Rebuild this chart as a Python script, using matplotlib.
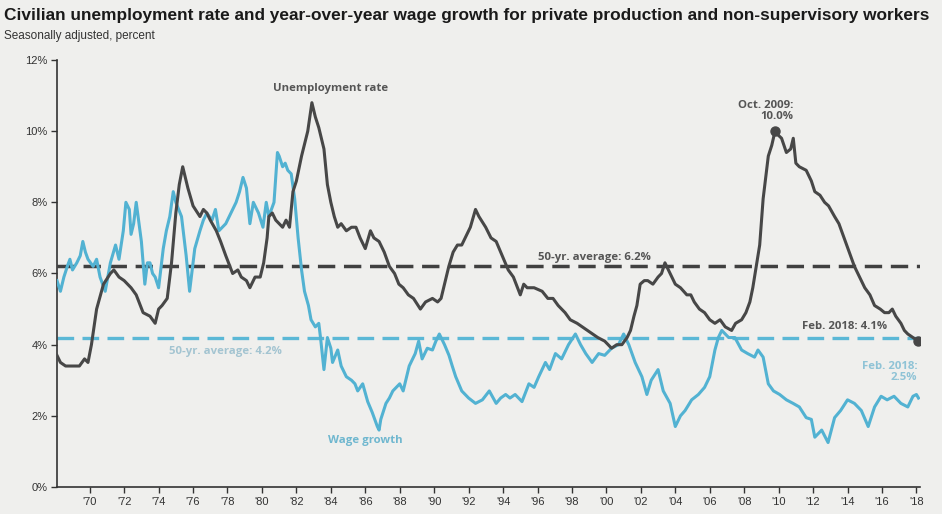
import matplotlib
matplotlib.use("Agg")
import matplotlib.pyplot as plt

# civilian unemployment rate, percent (decimal year, value)
unemp_t = [1968.1, 1968.3, 1968.6, 1969.0, 1969.4, 1969.7, 1969.9, 1970.1, 1970.4, 1970.8,
           1971.2, 1971.4, 1971.7, 1972.0, 1972.4, 1972.7, 1973.1, 1973.5, 1973.8, 1974.0,
           1974.2, 1974.5, 1974.75, 1975.0, 1975.2, 1975.4, 1975.7, 1976.0, 1976.4, 1976.6,
           1976.8, 1977.0, 1977.35, 1977.6, 1977.9, 1978.3, 1978.6, 1978.8, 1979.1, 1979.3,
           1979.6, 1979.9, 1980.1, 1980.3, 1980.4, 1980.6, 1980.8, 1981.0, 1981.2, 1981.4,
           1981.6, 1981.8, 1982.0, 1982.3, 1982.66, 1982.9, 1983.1, 1983.3, 1983.6, 1983.8,
           1984.0, 1984.2, 1984.4, 1984.6, 1984.9, 1985.2, 1985.46, 1985.7, 1986.0, 1986.3,
           1986.5, 1986.8, 1987.1, 1987.4, 1987.7, 1987.95, 1988.2, 1988.5, 1988.8, 1989.2,
           1989.5, 1989.9, 1990.2, 1990.4, 1990.6, 1990.85, 1991.1, 1991.35, 1991.6, 1991.8,
           1992.1, 1992.4, 1992.6, 1992.99, 1993.3, 1993.6, 1993.86, 1994.3, 1994.6, 1995.0,
           1995.2, 1995.4, 1995.8, 1996.27, 1996.6, 1996.9, 1997.2, 1997.6, 1997.9, 1998.3,
           1998.6, 1998.9, 1999.2, 1999.5, 1999.9, 2000.3, 2000.6, 2000.9, 2001.2, 2001.4,
           2001.6, 2001.77, 2001.96, 2002.2, 2002.4, 2002.7, 2003.0, 2003.2, 2003.4, 2003.6,
           2004.0, 2004.3, 2004.67, 2004.9, 2005.1, 2005.4, 2005.7, 2006.0, 2006.3, 2006.6,
           2006.9, 2007.27, 2007.5, 2007.85, 2008.1, 2008.33, 2008.5, 2008.7, 2008.9, 2009.1,
           2009.4, 2009.6, 2009.79, 2009.95, 2010.17, 2010.45, 2010.7, 2010.85, 2011.0, 2011.2,
           2011.6, 2011.9, 2012.1, 2012.4, 2012.67, 2012.9, 2013.25, 2013.5, 2013.8, 2014.1,
           2014.4, 2014.7, 2015.0, 2015.3, 2015.57, 2015.9, 2016.15, 2016.4, 2016.6, 2016.8,
           2017.1, 2017.3, 2017.5, 2017.8, 2018.12]
unemp_v = [3.7, 3.5, 3.4, 3.4, 3.4, 3.6, 3.5, 4.0, 5.0, 5.7,
           6.0, 6.1, 5.9, 5.8, 5.6, 5.4, 4.9, 4.8, 4.6, 5.0,
           5.1, 5.3, 6.3, 7.7, 8.5, 9.0, 8.4, 7.9, 7.6, 7.8,
           7.7, 7.5, 7.2, 6.9, 6.5, 6.0, 6.1, 5.9, 5.8, 5.6,
           5.9, 5.9, 6.3, 7.0, 7.6, 7.7, 7.5, 7.4, 7.3, 7.5,
           7.3, 8.3, 8.6, 9.3, 10.0, 10.8, 10.4, 10.1, 9.5, 8.5,
           8.0, 7.6, 7.3, 7.4, 7.2, 7.3, 7.3, 7.0, 6.7, 7.2,
           7.0, 6.9, 6.6, 6.2, 6.0, 5.7, 5.6, 5.4, 5.3, 5.0,
           5.2, 5.3, 5.2, 5.3, 5.7, 6.2, 6.6, 6.8, 6.8, 7.0,
           7.3, 7.8, 7.6, 7.3, 7.0, 6.9, 6.6, 6.1, 5.9, 5.4,
           5.7, 5.6, 5.6, 5.5, 5.3, 5.3, 5.1, 4.9, 4.7, 4.6,
           4.5, 4.4, 4.3, 4.2, 4.1, 3.9, 4.0, 4.0, 4.2, 4.4,
           4.8, 5.1, 5.7, 5.8, 5.8, 5.7, 5.9, 6.0, 6.3, 6.1,
           5.7, 5.6, 5.4, 5.4, 5.2, 5.0, 4.9, 4.7, 4.6, 4.7,
           4.5, 4.4, 4.6, 4.7, 4.9, 5.2, 5.6, 6.2, 6.8, 8.1,
           9.3, 9.6, 10.0, 9.9, 9.8, 9.4, 9.5, 9.8, 9.1, 9.0,
           8.9, 8.6, 8.3, 8.2, 8.0, 7.9, 7.6, 7.4, 7.0, 6.6,
           6.2, 5.9, 5.6, 5.4, 5.1, 5.0, 4.9, 4.9, 5.0, 4.8,
           4.6, 4.4, 4.3, 4.2, 4.1]

# y/y wage growth, production and non-supervisory workers, percent
wage_t = [1968.1, 1968.3, 1968.5, 1968.7, 1968.85, 1969.0, 1969.25, 1969.45, 1969.6, 1969.75,
          1969.9, 1970.2, 1970.4, 1970.6, 1970.9, 1971.2, 1971.5, 1971.7, 1971.95, 1972.1,
          1972.3, 1972.4, 1972.55, 1972.7, 1973.0, 1973.2, 1973.35, 1973.5, 1973.65, 1973.8,
          1974.0, 1974.27, 1974.45, 1974.65, 1974.85, 1975.0, 1975.33, 1975.6, 1975.8, 1976.1,
          1976.4, 1976.6, 1976.8, 1977.1, 1977.3, 1977.5, 1977.9, 1978.1, 1978.3, 1978.5,
          1978.7, 1978.9, 1979.1, 1979.3, 1979.5, 1979.8, 1980.06, 1980.25, 1980.4, 1980.7,
          1980.9, 1981.0, 1981.2, 1981.35, 1981.5, 1981.7, 1981.9, 1982.1, 1982.3, 1982.47,
          1982.7, 1982.85, 1983.1, 1983.3, 1983.4, 1983.6, 1983.8, 1984.0, 1984.1, 1984.4,
          1984.6, 1984.9, 1985.2, 1985.4, 1985.56, 1985.85, 1986.14, 1986.4, 1986.7, 1986.8,
          1986.9, 1987.2, 1987.4, 1987.6, 1988.0, 1988.2, 1988.55, 1988.9, 1989.1, 1989.3,
          1989.6, 1989.9, 1990.1, 1990.3, 1990.6, 1990.86, 1991.05, 1991.25, 1991.6, 1992.0,
          1992.4, 1992.8, 1993.2, 1993.6, 1993.86, 1994.15, 1994.4, 1994.7, 1995.1, 1995.5,
          1995.8, 1996.07, 1996.46, 1996.7, 1997.04, 1997.4, 1997.8, 1998.2, 1998.5, 1998.8,
          1999.17, 1999.55, 1999.9, 2000.3, 2000.7, 2001.0, 2001.3, 2001.67, 2002.06, 2002.35,
          2002.6, 2003.0, 2003.3, 2003.7, 2004.0, 2004.3, 2004.57, 2004.95, 2005.34, 2005.7,
          2006.0, 2006.3, 2006.5, 2006.7, 2007.1, 2007.46, 2007.85, 2008.2, 2008.6, 2008.8,
          2009.1, 2009.4, 2009.7, 2010.06, 2010.45, 2010.84, 2011.2, 2011.6, 2011.9, 2012.1,
          2012.5, 2012.87, 2013.25, 2013.6, 2014.0, 2014.4, 2014.8, 2015.2, 2015.57, 2015.95,
          2016.3, 2016.7, 2017.1, 2017.5, 2017.8, 2018.0, 2018.12]
wage_v = [5.8, 5.5, 5.9, 6.2, 6.4, 6.1, 6.3, 6.5, 6.9, 6.6,
          6.4, 6.2, 6.4, 5.9, 5.5, 6.3, 6.8, 6.4, 7.2, 8.0,
          7.8, 7.1, 7.4, 8.0, 6.9, 5.7, 6.3, 6.3, 6.0, 5.9,
          5.6, 6.7, 7.2, 7.6, 8.3, 8.0, 7.6, 6.5, 5.5, 6.7,
          7.2, 7.5, 7.7, 7.5, 7.8, 7.2, 7.4, 7.6, 7.8, 8.0,
          8.3, 8.7, 8.4, 7.4, 8.0, 7.7, 7.3, 8.0, 7.6, 8.0,
          9.4, 9.3, 9.0, 9.1, 8.9, 8.8, 8.1, 7.0, 6.1, 5.5,
          5.1, 4.7, 4.5, 4.6, 4.2, 3.3, 4.2, 3.9, 3.5, 3.85,
          3.4, 3.1, 3.0, 2.9, 2.7, 2.9, 2.4, 2.1, 1.7, 1.6,
          1.9, 2.35, 2.5, 2.7, 2.9, 2.7, 3.4, 3.75, 4.1, 3.6,
          3.9, 3.85, 4.1, 4.3, 4.0, 3.7, 3.4, 3.1, 2.7, 2.5,
          2.35, 2.45, 2.7, 2.35, 2.5, 2.6, 2.5, 2.6, 2.4, 2.9,
          2.8, 3.1, 3.5, 3.3, 3.75, 3.6, 4.0, 4.3, 4.0, 3.75,
          3.5, 3.75, 3.7, 3.9, 4.0, 4.3, 4.0, 3.5, 3.1, 2.6,
          3.0, 3.3, 2.7, 2.35, 1.7, 2.0, 2.15, 2.45, 2.6, 2.8,
          3.1, 3.85, 4.2, 4.4, 4.2, 4.2, 3.85, 3.75, 3.65, 3.85,
          3.65, 2.9, 2.7, 2.6, 2.45, 2.35, 2.25, 1.95, 1.9, 1.4,
          1.6, 1.25, 1.95, 2.15, 2.45, 2.35, 2.15, 1.7, 2.25, 2.55,
          2.45, 2.55, 2.35, 2.25, 2.55, 2.6, 2.5]

unemp_avg = 6.2
wage_avg = 4.2
year_ticks = list(range(1970, 2019, 2))
year_labels = ["'%02d" % (y % 100) for y in year_ticks]

gray = "#474747"
blue = "#52b2d2"
bg = "#efefed"

plt.rcParams["font.family"] = ["Liberation Sans", "DejaVu Sans"]

fig = plt.figure(figsize=(9.42, 5.14), dpi=100, facecolor=bg)
ax = fig.add_axes([0.0605, 0.0525, 0.916, 0.8308], facecolor=bg)

ax.axhline(unemp_avg, color="#404040", lw=2.5, dashes=(5, 2.5), zorder=2)
ax.axhline(wage_avg, color="#5bb8d6", lw=2.4, dashes=(5, 2.5), zorder=2)
ax.plot(wage_t, wage_v, color=blue, lw=2.2, zorder=3)
ax.plot(unemp_t, unemp_v, color=gray, lw=2.2, zorder=4)
ax.plot([unemp_t[152], unemp_t[-1]], [unemp_v[152], unemp_v[-1]], "o",
        color=gray, ms=6.5, zorder=5)

ax.set_xlim(1968.1, 2018.2)
ax.set_ylim(0, 12)
ax.set_yticks(range(0, 13, 2))
ax.set_yticklabels(["%d%%" % v for v in range(0, 13, 2)])
ax.set_xticks(year_ticks)
ax.set_xticklabels(year_labels)
ax.tick_params(labelsize=8, colors="#333333", length=4, width=1, pad=3)
for s in ["top", "right"]:
    ax.spines[s].set_visible(False)
for s in ["left", "bottom"]:
    ax.spines[s].set_color("#333333")
    ax.spines[s].set_linewidth(1.2)

ann = dict(fontfamily="Open Sans", fontweight="bold", fontsize=8.2)
ax.text(1984.0, 11.2, "Unemployment rate", color="#555555", ha="center", va="center", **ann)
ax.text(1986.0, 1.3, "Wage growth", color="#6fb7cf", ha="center", va="center", **ann)
ax.text(1999.3, 6.45, "50-yr. average: 6.2%", color="#555555", ha="center", va="center", **ann)
ax.text(1977.9, 3.8, "50-yr. average: 4.2%", color="#a3c4d1", ha="center", va="center", **ann)
ax.text(2010.85, 10.25, "Oct. 2009:\n10.0%", color="#555555", ha="right", va="bottom",
        linespacing=1.0, **ann)
ax.text(2016.3, 4.5, "Feb. 2018: 4.1%", color="#555555", ha="right", va="center", **ann)
ax.text(2018.06, 3.23, "Feb. 2018:\n2.5%", color="#8fc3d6", ha="right", va="center",
        linespacing=1.0, **ann)

fig.text(0.004, 0.97, "Civilian unemployment rate and year-over-year wage growth for private "
         "production and non-supervisory workers", fontsize=12.4, fontweight="bold",
         color="#1a1a1a", va="center")
fig.text(0.004, 0.93, "Seasonally adjusted, percent", fontsize=8.5, color="#333333", va="center")

fig.savefig("out.png", dpi=100, facecolor=bg)
